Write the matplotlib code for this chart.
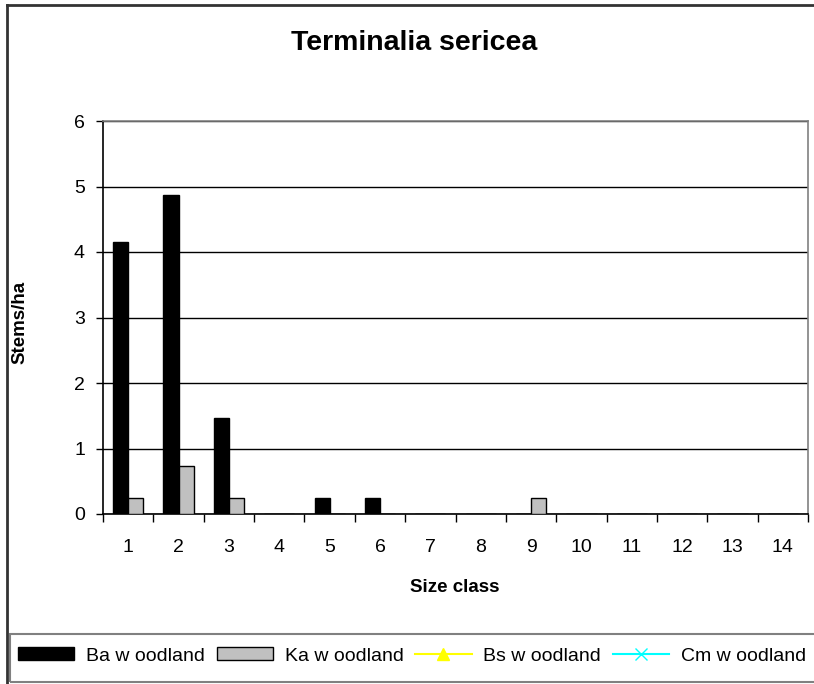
import matplotlib
matplotlib.use("Agg")
import matplotlib.pyplot as plt
import numpy as np
from matplotlib.lines import Line2D
from matplotlib.patches import Rectangle

plt.rcParams["font.family"] = ["Liberation Sans", "DejaVu Sans"]

size_classes = ["1", "2", "3", "4", "5", "6", "7", "8", "9", "10", "11", "12", "13", "14"]
ba_values = [4.15, 4.87, 1.46, 0, 0.24, 0.24, 0, 0, 0, 0, 0, 0, 0, 0]
ka_values = [0.24, 0.73, 0.24, 0, 0, 0, 0, 0, 0.24, 0, 0, 0, 0, 0]
bs_values = [np.nan] * 14
cm_values = [np.nan] * 14

W, H = 814, 684
fig = plt.figure(figsize=(W / 100, H / 100), dpi=100)

# outer chart border (runs off right/bottom edge like the screenshot)
fig.add_artist(Line2D([7 / W, 1.0], [1 - 5 / H, 1 - 5 / H], color="#333333", lw=2))
fig.add_artist(Line2D([7 / W, 7 / W], [1 - 5 / H, 0], color="#333333", lw=2))

ax = fig.add_axes([103 / W, 1 - 514 / H, (808 - 103) / W, (514 - 121) / H])
x = np.arange(len(size_classes))
w = 0.3
ax.bar(x - w / 2, ba_values, w, color="black", edgecolor="black", lw=1, zorder=3)
ax.bar(x + w / 2, ka_values, w, color="#C0C0C0", edgecolor="black", lw=1, zorder=3)
ax.plot(x, bs_values, color="yellow", marker="^")
ax.plot(x, cm_values, color="cyan", marker="x")

ax.set_xlim(-0.5, len(size_classes) - 0.5)
ax.set_ylim(0, 6)
ax.set_yticks(range(0, 7))
ax.yaxis.grid(True, color="black", lw=1)
ax.set_axisbelow(True)
ax.set_xticks(x)
ax.set_xticklabels(size_classes)
ax.set_xticks(np.arange(-0.5, len(size_classes)), minor=True)
ax.tick_params(axis="x", which="major", length=0, pad=18, labelsize=14)
ax.tick_params(axis="x", which="minor", length=6, width=1, direction="out")
ax.tick_params(axis="y", length=5, width=1, direction="out", pad=8, labelsize=14)
ax.spines["left"].set_color("black")
ax.spines["bottom"].set_color("black")
ax.spines["top"].set_color("#808080")
ax.spines["right"].set_color("#808080")
for s in ax.spines.values():
    s.set_linewidth(1.2)

fig.text(414 / W, 1 - 43 / H, "Terminalia sericea", ha="center", va="center",
         fontsize=20.5, fontweight="bold")
fig.text(20 / W, 1 - 322 / H, "Stems/ha", ha="center", va="center", rotation=90,
         fontsize=13.5, fontweight="bold")
fig.text(455 / W, 1 - 587 / H, "Size class", ha="center", va="center",
         fontsize=13.5, fontweight="bold")

# legend box
fig.add_artist(Rectangle((10 / W, 1 - 682 / H), 1.0, (682 - 634) / H,
                         transform=fig.transFigure, fill=False, edgecolor="#808080", lw=1.5))
handles = [
    Rectangle((0, 0), 1, 1, facecolor="black", edgecolor="black", lw=1),
    Rectangle((0, 0), 1, 1, facecolor="#C0C0C0", edgecolor="black", lw=1),
    Line2D([], [], color="yellow", marker="^", markersize=8),
    Line2D([], [], color="cyan", marker="x", markersize=8),
]
labels = ["Ba w oodland", "Ka w oodland", "Bs w oodland", "Cm w oodland"]
fig.legend(handles, labels, loc="center", bbox_to_anchor=(412 / W, 1 - 656 / H),
           ncol=4, frameon=False, fontsize=14, handlelength=2.9, handleheight=0.6,
           handletextpad=0.6, columnspacing=0.6, borderpad=0)

fig.savefig("out.png", dpi=100)
